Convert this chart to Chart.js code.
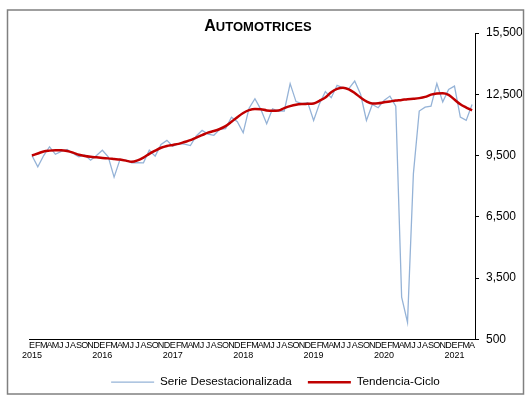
<!DOCTYPE html>
<html><head><meta charset="utf-8">
<script src="https://cdn.jsdelivr.net/npm/chart.js@4/dist/chart.umd.min.js"></script>
<style>html,body{margin:0;padding:0;background:#fff;}#wrap{position:relative;width:530px;height:399px;}canvas{display:block;}</style>
</head><body><div id="wrap"><canvas id="c" width="530" height="399"></canvas></div>
<script>
const MONTH_LETTERS = ['E','F','M','A','M','J','J','A','S','O','N','D'];
const YEARS = ['2015','2016','2017','2018','2019','2020','2021'];
const LAST_YEAR_MONTHS = 4;
const Y_TICKS = [500, 3500, 6500, 9500, 12500, 15500];

const serieDesestacionalizada = [
  9500, 8950, 9500, 9930, 9560, 9700, 9800, 9600, 9440, 9530, 9270, 9500,
  9760, 9440, 8440, 9300, 9270, 9140, 9150, 9140, 9760, 9470, 10040, 10240,
  9960, 10080, 10060, 9990, 10460, 10730, 10550, 10490, 10780, 10820, 11380, 11160,
  10615, 11820, 12280, 11760, 11060, 11790, 11680, 11680, 13020, 12140, 12040, 12090,
  11220, 12040, 12630, 12330, 12940, 12820, 12780, 13150, 12500, 11220, 12000, 11840,
  12200, 12410, 11920, 2560, 1330, 8600, 11680, 11870, 11920, 13020, 12120, 12740,
  12900, 11380, 11220, 12000
];
const tendenciaCiclo = [
  9500, 9600, 9700, 9740, 9760, 9760, 9720, 9640, 9540, 9480, 9440, 9410,
  9380, 9360, 9330, 9300, 9250, 9190, 9260, 9400, 9580, 9740, 9880, 9970,
  10020, 10070, 10160, 10250, 10380, 10500, 10620, 10700, 10800, 10940, 11150, 11380,
  11580, 11720, 11780, 11770, 11710, 11690, 11700, 11820, 11920, 11990, 12020, 12030,
  12050, 12180, 12340, 12600, 12760, 12820, 12740, 12560, 12340, 12150, 12050, 12060,
  12110, 12150, 12190, 12220, 12260, 12280, 12310, 12370, 12480, 12540, 12550, 12470,
  12240, 12010, 11850, 11710
];

const labels = [];
YEARS.forEach((y, yi) => {
  const n = yi === YEARS.length - 1 ? LAST_YEAR_MONTHS : 12;
  for (let m = 0; m < n; m++) labels.push([MONTH_LETTERS[m], m === 0 ? y : '']);
});

const FONT = "'Liberation Sans', Arial, sans-serif";

const framePlugin = {
  id: 'frame',
  beforeDraw(chart) {
    const ctx = chart.ctx;
    ctx.save();
    ctx.fillStyle = '#fff';
    ctx.fillRect(0, 0, chart.width, chart.height);
    ctx.strokeStyle = '#808080';
    ctx.lineWidth = 1.5;
    ctx.strokeRect(7.5, 10, 516, 384);
    ctx.restore();
  },
  afterDraw(chart) {
    const ctx = chart.ctx;
    ctx.save();
    ctx.fillStyle = '#000';
    ctx.textBaseline = 'alphabetic';
    const big = 'bold 16px ' + FONT, small = 'bold 13px ' + FONT;
    ctx.font = big; const w1 = ctx.measureText('A').width;
    ctx.font = small; const w2 = ctx.measureText('UTOMOTRICES').width;
    const x0 = 258 - (w1 + w2) / 2;
    ctx.font = big; ctx.fillText('A', x0, 31);
    ctx.font = small; ctx.fillText('UTOMOTRICES', x0 + w1, 31);
    ctx.restore();
  }
};

new Chart(document.getElementById('c'), {
  type: 'line',
  data: {
    labels: labels,
    datasets: [
      { label: 'Serie Desestacionalizada', data: serieDesestacionalizada, borderColor: '#95B3D7', backgroundColor: '#95B3D7', borderWidth: 1.3, pointRadius: 0, tension: 0, order: 2 },
      { label: 'Tendencia-Ciclo', data: tendenciaCiclo, borderColor: '#C00000', backgroundColor: '#C00000', borderWidth: 2.5, pointRadius: 0, tension: 0.4, cubicInterpolationMode: 'monotone', order: 1 }
    ]
  },
  options: {
    responsive: false,
    animation: false,
    devicePixelRatio: 1,
    layout: { padding: { left: 29, top: 33, right: 8, bottom: 1 } },
    plugins: {
      title: { display: false },
      tooltip: { enabled: false },
      legend: {
        position: 'bottom',
        labels: {
          usePointStyle: true, pointStyle: 'line', pointStyleWidth: 43,
          boxHeight: 11, padding: 16, color: '#000',
          font: { family: FONT, size: 11.7 },
          sort: (a, b) => a.datasetIndex - b.datasetIndex
        }
      }
    },
    scales: {
      x: {
        type: 'category',
        offset: true,
        grid: { display: false, drawTicks: false, tickLength: 0 },
        border: { display: true, color: '#000', width: 1 },
        ticks: { autoSkip: false, maxRotation: 0, minRotation: 0, padding: 1, color: '#000', font: { family: FONT, size: 9, lineHeight: 1.15 } },
        afterFit(s) { s.height = 21; }
      },
      y: {
        position: 'right',
        min: 500, max: 15500,
        afterBuildTicks(s) { s.ticks = Y_TICKS.map(v => ({ value: v })); },
        grid: { drawOnChartArea: false, drawTicks: true, tickLength: 4, color: '#000' },
        border: { display: true, color: '#000', width: 1 },
        ticks: { padding: 7, color: '#000', font: { family: FONT, size: 12 }, callback: v => v.toLocaleString('en-US') },
        afterFit(s) { s.width = 47; }
      }
    }
  },
  plugins: [framePlugin]
});
</script></body></html>
